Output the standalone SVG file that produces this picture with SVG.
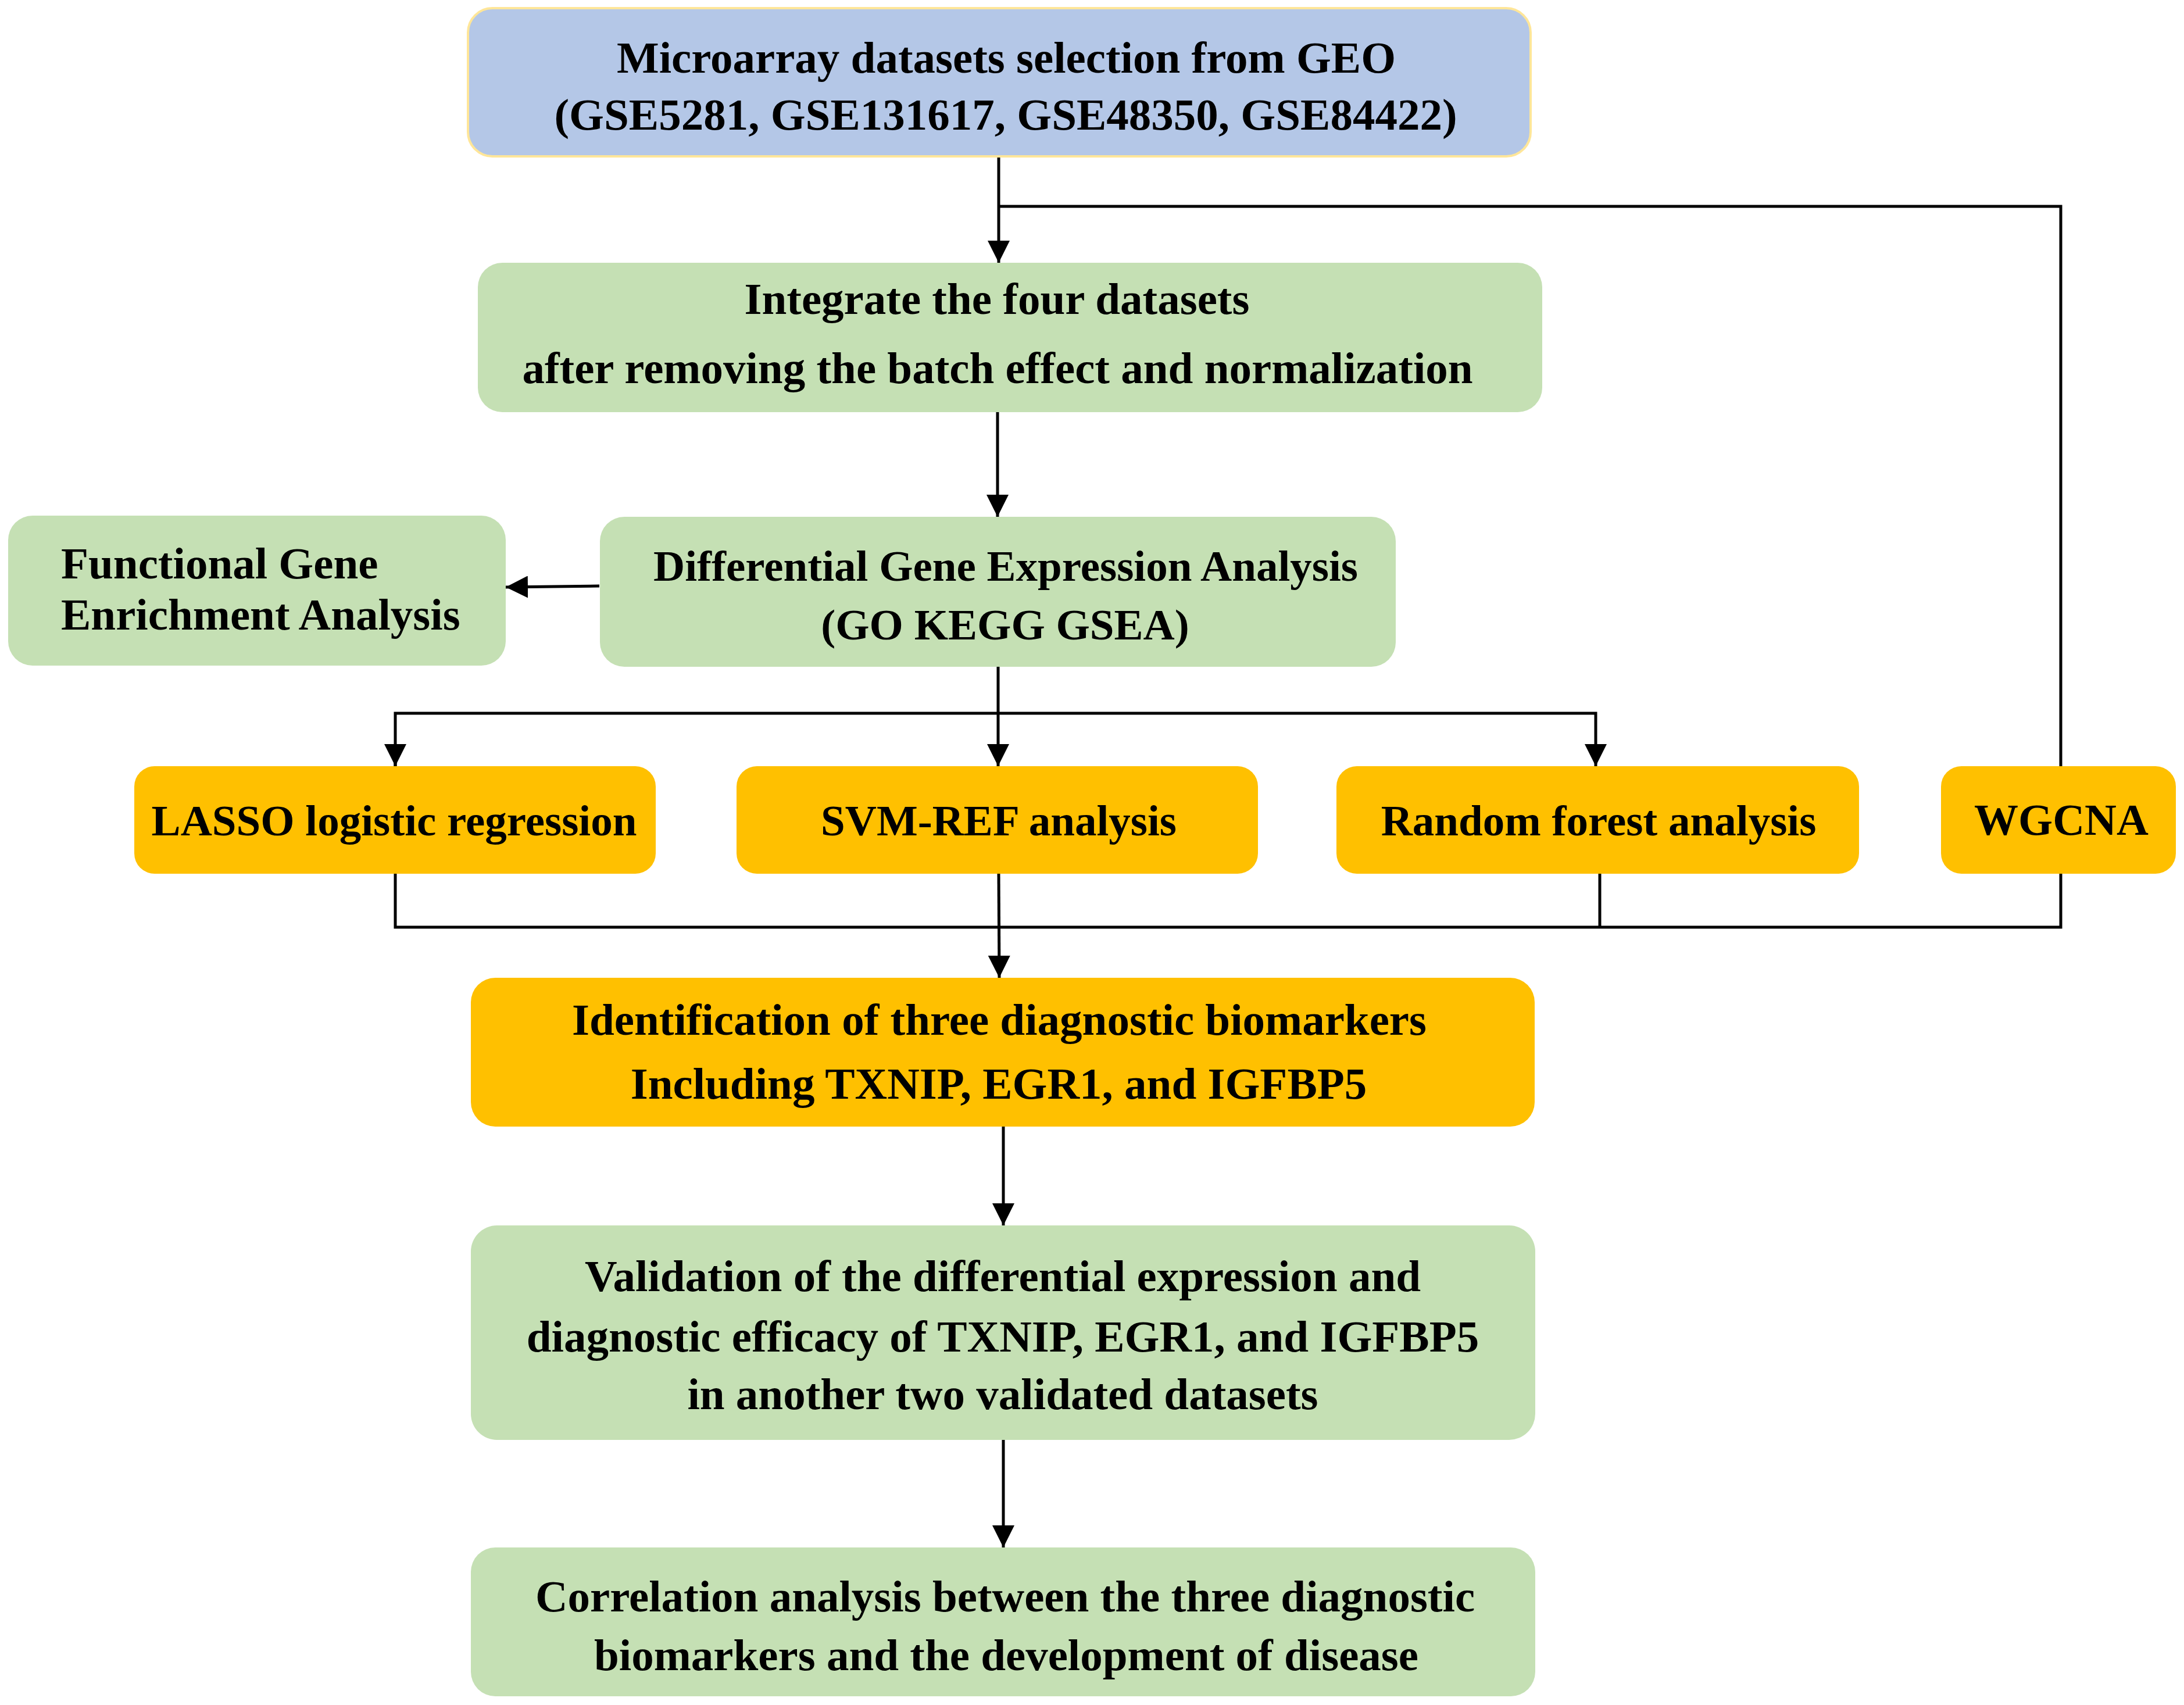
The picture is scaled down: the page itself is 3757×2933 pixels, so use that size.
<svg xmlns="http://www.w3.org/2000/svg" width="3757" height="2933" viewBox="0 0 3757 2933">
<defs>
<style>
.t{font-family:"Liberation Serif","Times New Roman",serif;font-weight:bold;font-size:77px;fill:#000;text-anchor:middle}
.s{font-size:75px}
.tl{font-family:"Liberation Serif","Times New Roman",serif;font-weight:bold;font-size:77px;fill:#000;text-anchor:start}
.blue{fill:#B4C7E7;stroke:#FFE699;stroke-width:4}
.green{fill:#C5E0B4}
.orange{fill:#FFC000}
.c{fill:none;stroke:#000;stroke-width:5}
</style>
<marker id="ah" viewBox="0 0 10 10" refX="10" refY="5" markerWidth="38" markerHeight="38" markerUnits="userSpaceOnUse" orient="auto">
<path d="M0,0 L10,5 L0,10 z" fill="#000"/>
</marker>
</defs>
<rect width="3757" height="2933" fill="#fff"/>
<g id="connectors">
<path class="c" d="M1718,270 L1718,452" marker-end="url(#ah)"/>
<path class="c" d="M1718,355 L3545,355 L3545,1318"/>
<path class="c" d="M1716,709 L1716,889" marker-end="url(#ah)"/>
<path class="c" d="M1031,1008 L870,1010" marker-end="url(#ah)"/>
<path class="c" d="M1717,1147 L1717,1318" marker-end="url(#ah)"/>
<path class="c" d="M680,1318 L680,1227 L2745,1227 L2745,1318" marker-end="url(#ah)"/>
<path class="c" d="M680,1294 L680,1318" marker-end="url(#ah)"/>
<path class="c" d="M680,1503 L680,1595 L3545,1595 L3545,1503"/>
<path class="c" d="M2752,1503 L2752,1595"/>
<path class="c" d="M1718,1503 L1719,1682" marker-end="url(#ah)"/>
<path class="c" d="M1726,1938 L1726,2108" marker-end="url(#ah)"/>
<path class="c" d="M1726,2477 L1726,2662" marker-end="url(#ah)"/>
</g>
<g id="n-geo">
<rect class="blue" x="805" y="14" width="1828" height="255" rx="42"/>
<text class="t" x="1731" y="125">Microarray datasets selection from GEO</text>
<text class="t" x="1730" y="223">(GSE5281, GSE131617, GSE48350, GSE84422)</text>
</g>
<g id="n-integrate">
<rect class="green" x="822" y="452" width="1831" height="257" rx="42"/>
<text class="t" x="1715" y="540">Integrate the four datasets</text>
<text class="t" x="1716" y="659">after removing the batch effect and normalization</text>
</g>
<g id="n-functional">
<rect class="green" x="14" y="887" width="856" height="258" rx="42"/>
<text class="tl" x="105" y="995">Functional Gene</text>
<text class="tl" x="105" y="1083">Enrichment Analysis</text>
</g>
<g id="n-diff">
<rect class="green" x="1032" y="889" width="1369" height="258" rx="42"/>
<text class="t s" x="1730" y="999">Differential Gene Expression Analysis</text>
<text class="t s" x="1729" y="1100">(GO KEGG GSEA)</text>
</g>
<g id="n-lasso">
<rect class="orange" x="231" y="1318" width="897" height="185" rx="35"/>
<text class="t s" x="678" y="1437">LASSO logistic regression</text>
</g>
<g id="n-svm">
<rect class="orange" x="1267" y="1318" width="897" height="185" rx="35"/>
<text class="t s" x="1718" y="1437">SVM-REF analysis</text>
</g>
<g id="n-rf">
<rect class="orange" x="2299" y="1318" width="899" height="185" rx="35"/>
<text class="t s" x="2750" y="1437">Random forest analysis</text>
</g>
<g id="n-wgcna">
<rect class="orange" x="3339" y="1318" width="404" height="185" rx="35"/>
<text class="t" x="3546" y="1436" style="font-size:76px">WGCNA</text>
</g>
<g id="n-identify">
<rect class="orange" x="810" y="1682" width="1830" height="256" rx="42"/>
<text class="t" x="1719" y="1780">Identification of three diagnostic biomarkers</text>
<text class="t" x="1718" y="1890">Including TXNIP, EGR1, and IGFBP5</text>
</g>
<g id="n-validation">
<rect class="green" x="810" y="2108" width="1831" height="369" rx="45"/>
<text class="t" x="1725" y="2221">Validation of the differential expression and</text>
<text class="t" x="1725" y="2325">diagnostic efficacy of TXNIP, EGR1, and IGFBP5</text>
<text class="t" x="1725" y="2424">in another two validated datasets</text>
</g>
<g id="n-correlation">
<rect class="green" x="810" y="2662" width="1831" height="256" rx="42"/>
<text class="t" x="1729" y="2772">Correlation analysis between the three diagnostic</text>
<text class="t" x="1731" y="2873">biomarkers and the development of disease</text>
</g>
</svg>
